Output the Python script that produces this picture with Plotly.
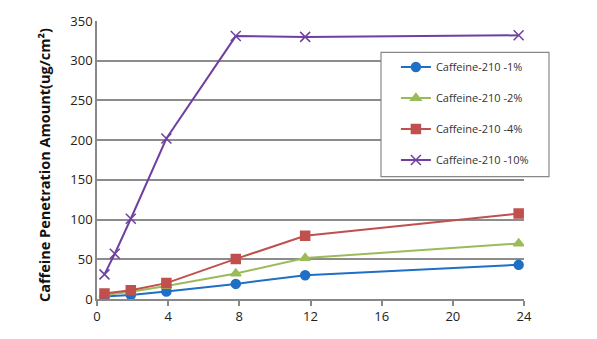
import plotly.graph_objects as go

time_1pct = [0.42, 1.9, 3.9, 7.8, 11.7, 23.7]
caf_1pct = [3, 5, 9.5, 19, 30, 43]
time_2pct = [0.42, 1.9, 3.9, 7.8, 11.7, 23.7]
caf_2pct = [5, 9, 16.5, 32, 51.5, 70]
time_4pct = [0.42, 1.9, 3.9, 7.8, 11.7, 23.7]
caf_4pct = [7, 11, 20, 50.5, 79.5, 107.5]
time_10pct = [0.42, 1.0, 1.9, 3.9, 7.8, 11.7, 23.7]
caf_10pct = [31, 57, 101, 202, 331, 330, 332]

names = ["Caffeine-210 -1%", "Caffeine-210 -2%", "Caffeine-210 -4%", "Caffeine-210 -10%"]
x_ticks = [0, 4, 8, 12, 16, 20, 24]
y_ticks = [0, 50, 100, 150, 200, 250, 300, 350]

series = [
    (time_1pct, caf_1pct, "#1F6FC5", "circle", 9),
    (time_2pct, caf_2pct, "#9BBB59", "triangle-up", 9),
    (time_4pct, caf_4pct, "#C0504D", "square", 9),
    (time_10pct, caf_10pct, "#7040A0", "x-thin", 10),
]

fig = go.Figure()
for i, (xs, ys, col, sym, sz) in enumerate(series):
    fig.add_trace(go.Scatter(
        x=xs, y=ys, name=names[i], mode="lines+markers",
        line=dict(color=col, width=2),
        marker=dict(symbol=sym, size=sz, color=col,
                    line=dict(color=col, width=1.5)),
        legendgroup=f"g{i}",
    ))

font_family = "Open Sans, Noto Sans, sans-serif"
fig.update_layout(
    width=597, height=339,
    margin=dict(l=97, r=73, t=19, b=40),
    paper_bgcolor="white", plot_bgcolor="white",
    font=dict(family=font_family, size=12, color="#333333"),
    showlegend=True,
    legend=dict(
        x=0.70, y=0.887, xanchor="left", yanchor="top",
        bgcolor="rgba(0,0,0,0)", borderwidth=0,
        font=dict(size=11, color="#333333"),
        traceorder="grouped", tracegroupgap=12,
    ),
    xaxis=dict(
        range=[0, 24], tickvals=x_ticks, ticktext=[str(v) for v in x_ticks],
        showgrid=False, zeroline=False,
        showline=True, linecolor="#888888", linewidth=1.5,
        ticks="outside", ticklen=5, tickcolor="#888888", tickwidth=1.5,
        tickfont=dict(size=13, color="#222222"),
    ),
    yaxis=dict(
        range=[0, 350], tickvals=y_ticks, ticktext=[str(v) for v in y_ticks],
        showgrid=True, gridcolor="#8C8C8C", gridwidth=1.5, zeroline=False,
        showline=True, linecolor="#888888", linewidth=1.5,
        ticks="", tickfont=dict(size=13, color="#222222"),
    ),
    shapes=[dict(
        type="rect", xref="paper", yref="paper",
        x0=(381 - 97) / 427, x1=(549 - 97) / 427,
        y0=(299 - 175.7) / 280, y1=(299 - 50.7) / 280,
        line=dict(color="#888888", width=1.2), fillcolor="white", layer="above",
    )],
    annotations=[dict(
        text="<b>Caffeine Penetration Amount(ug/cm²)</b>",
        xref="paper", yref="paper", x=(45 - 97) / 427, y=(299 - 164) / 280,
        textangle=-90, showarrow=False, xanchor="center", yanchor="middle",
        font=dict(size=14.5, color="#111111", family=font_family),
    )],
)

fig.write_html("out.html")
